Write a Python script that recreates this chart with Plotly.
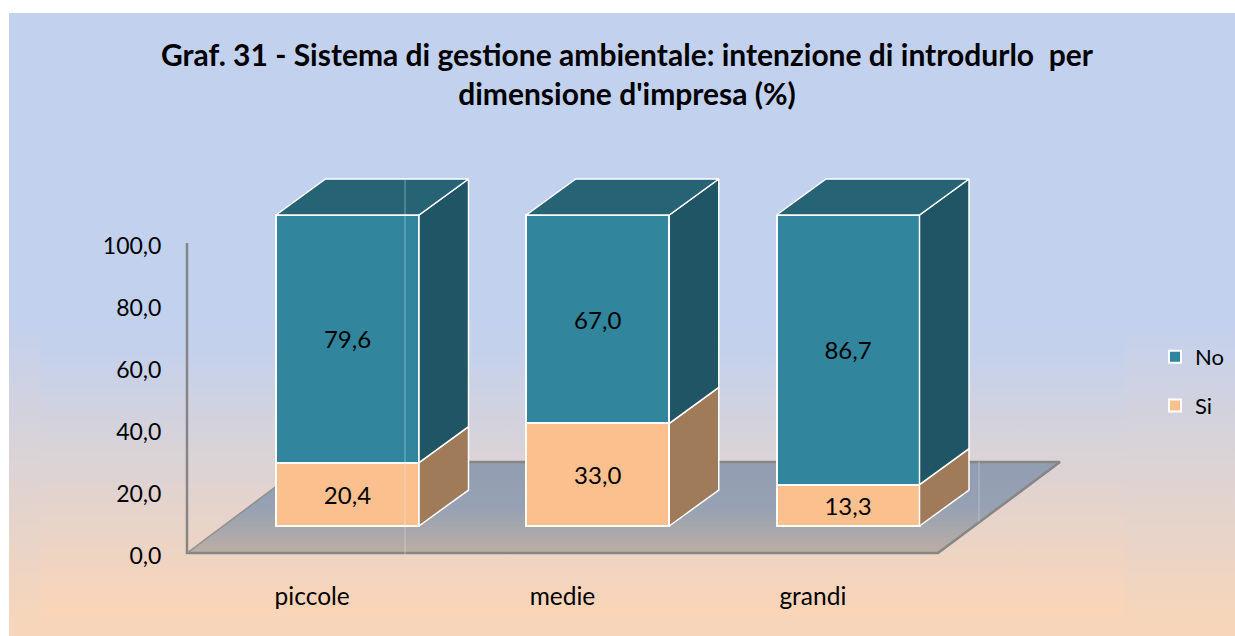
import plotly.graph_objects as go

W, H = 1235, 636
categories = ["piccole", "medie", "grandi"]
si_values = [20.4, 33.0, 13.3]
no_values = [79.6, 67.0, 86.7]
y_ticks = [0, 20, 40, 60, 80, 100]
title = "Graf. 31 - Sistema di gestione ambientale: intenzione di introdurlo\u00a0 per<br>dimensione d'impresa (%)"

FONT = "Lato"
C_NO, C_NO_SIDE, C_NO_TOP = "#31859C", "#1F5564", "#266475"
C_SI, C_SI_SIDE = "#FCC08E", "#9F7B5A"
BLUE, PEACH_IN, PEACH_OUT = "#C2D1EE", "#FBD5B6", "#F6D5BA"
GREY = "#868686"

# axis geometry (pixels)
AX_L, AX_R, AX_Y0, AX_Y100 = 187, 938, 553, 243      # drawn axes
BAR_C0, BAR_STEP, BAR_W = 347.5, 250.25, 143         # bar group
BAR_Y0, BAR_SCALE = 526, 3.11                        # px per unit
DEPTH_X, DEPTH_Y = 49.5, 36                          # bar depth
FLOOR_X, FLOOR_Y = 122, 91                           # floor depth

pos = list(range(len(categories)))
ax_step = (AX_R - AX_L) / len(categories)
ax_c0 = AX_L + ax_step / 2
ax_scale = (AX_Y0 - AX_Y100) / 100

fig = go.Figure()


def poly(xs, ys, axes=("x", "y"), fill=None, grad=None, line=None, lw=0):
    kw = dict(x=xs, y=ys, xaxis=axes[0], yaxis=axes[1], mode="lines", showlegend=False,
              hoverinfo="skip", fill="toself" if (fill or grad) else None,
              line=dict(color=line or "rgba(0,0,0,0)", width=lw))
    if fill:
        kw["fillcolor"] = fill
    if grad:
        kw["fillgradient"] = dict(type="vertical", colorscale=grad)
    fig.add_trace(go.Scatter(**kw))


# backdrop, in pixel units (gradient stop 0 is the lower edge on screen)
poly([9, W, W, 9, 9], [13, 13, H, H, 13],
     grad=[[0, PEACH_OUT], [0.03, PEACH_OUT], [0.51, BLUE], [1, BLUE]])
poly([40, 1125, 1125, 40, 40], [340, 340, 616, 616, 340],
     grad=[[0, PEACH_IN], [1, BLUE]])

# floor and axis lines, in axis units
fx = FLOOR_X / ax_step
fy = FLOOR_Y / ax_scale
xl, xr = -0.5, len(categories) - 0.5
poly([xl, xr, xr + fx, xl + fx, xl], [0, 0, fy, fy, 0], axes=("x2", "y2"),
     grad=[[0, "#BBAEA3"], [0.5, "#97A1B3"], [1, "#919DB2"]])
poly([xl + fx, xr + fx, xr, xl, xl], [fy, fy, 0, 0, 100], axes=("x2", "y2"), line=GREY, lw=2.5)
poly([xl, xl + fx], [0, fy], axes=("x2", "y2"), line="#8F8F8F", lw=1.5)

# bars
fig.add_trace(go.Bar(x=pos, y=si_values, name="Si", xaxis="x3", yaxis="y3", width=BAR_W / BAR_STEP,
                     marker=dict(color=C_SI, line=dict(color="white", width=2)),
                     text=si_values, texttemplate="%{y:.1f}", textposition="inside", textangle=0,
                     insidetextanchor="middle", insidetextfont=dict(family=FONT, size=24, color="black"),
                     legendgroup="si", legendrank=2, cliponaxis=False))
fig.add_trace(go.Bar(x=pos, y=no_values, name="No", xaxis="x3", yaxis="y3", width=BAR_W / BAR_STEP,
                     marker=dict(color=C_NO, line=dict(color="white", width=2)),
                     text=no_values, texttemplate="%{y:.1f}", textposition="inside", textangle=0,
                     insidetextanchor="middle", insidetextfont=dict(family=FONT, size=24, color="black"),
                     legendgroup="no", legendrank=1, cliponaxis=False))

# 3D faces derived from the values
dx, dy = DEPTH_X / BAR_STEP, DEPTH_Y / BAR_SCALE
hw = BAR_W / BAR_STEP / 2
for p, s, n in zip(pos, si_values, no_values):
    r = p + hw
    l = p - hw
    poly([r, r + dx, r + dx, r, r], [0, dy, s + dy, s, 0], axes=("x3", "y3"), fill=C_SI_SIDE, line="white", lw=1.5)
    poly([r, r + dx, r + dx, r, r], [s, s + dy, s + n + dy, s + n, s], axes=("x3", "y3"), fill=C_NO_SIDE, line="white", lw=1.5)
    poly([l, r, r + dx, l + dx, l], [s + n, s + n, s + n + dy, s + n + dy, s + n], axes=("x3", "y3"), fill=C_NO_TOP, line="white", lw=1.5)


def full(r):
    return dict(domain=[0, 1], range=r, visible=False, fixedrange=True)


layout_axes = dict(
    xaxis=full([0, W]),
    yaxis=full([H, 0]),
    xaxis2=dict(overlaying="x", anchor="free", position=1 - AX_Y0 / H, side="bottom",
                range=[(0 - ax_c0) / ax_step, (W - ax_c0) / ax_step],
                tickmode="array", tickvals=pos, ticktext=categories,
                ticks="outside", ticklen=22, tickcolor="rgba(0,0,0,0)", showline=False,
                showgrid=False, zeroline=False, tickfont=dict(family=FONT, size=24.5, color="black")),
    yaxis2=dict(overlaying="y", anchor="free", position=AX_L / W, side="left",
                range=[(AX_Y0 - H) / ax_scale, AX_Y0 / ax_scale],
                tickmode="array", tickvals=y_ticks, tickformat=".1f",
                ticks="outside", ticklen=21, tickcolor="rgba(0,0,0,0)", showline=False,
                ticklabelshift=3,
                showgrid=False, zeroline=False, tickfont=dict(family=FONT, size=23, color="black")),
    xaxis3=dict(overlaying="x", range=[(0 - BAR_C0) / BAR_STEP, (W - BAR_C0) / BAR_STEP],
                visible=False, anchor="y3"),
    yaxis3=dict(overlaying="y", range=[(BAR_Y0 - H) / BAR_SCALE, BAR_Y0 / BAR_SCALE],
                visible=False, anchor="x3"),
)

fig.update_layout(
    width=W, height=H, margin=dict(l=0, r=0, t=0, b=0), autosize=False,
    paper_bgcolor="white", plot_bgcolor="rgba(0,0,0,0)",
    barmode="stack", separators=", ", font=dict(family=FONT, color="black"),
    title=dict(text=title, x=627 / W, xanchor="center", y=1 - 66 / H, yanchor="middle",
               font=dict(family=FONT, size=30, color="black", weight="bold")),
    legend=dict(x=1155 / W, y=1 - 336 / H, xanchor="left", yanchor="top", traceorder="grouped",
                tracegroupgap=17, bgcolor="rgba(0,0,0,0)", font=dict(family=FONT, size=22, color="black")),
    shapes=[
        dict(type="line", xref="paper", yref="paper", x0=405 / W, x1=405 / W, y0=1 - 179 / H, y1=1 - 555 / H,
             line=dict(color="rgba(225,235,240,0.45)", width=1)),
        dict(type="line", xref="paper", yref="paper", x0=979 / W, x1=979 / W, y0=1 - 461 / H, y1=1 - 522 / H,
             line=dict(color="rgba(225,235,240,0.4)", width=1)),
    ],
    **layout_axes,
)

fig.write_html("out.html", config={"displayModeBar": False},
               post_script="document.body.style.margin='0';")
